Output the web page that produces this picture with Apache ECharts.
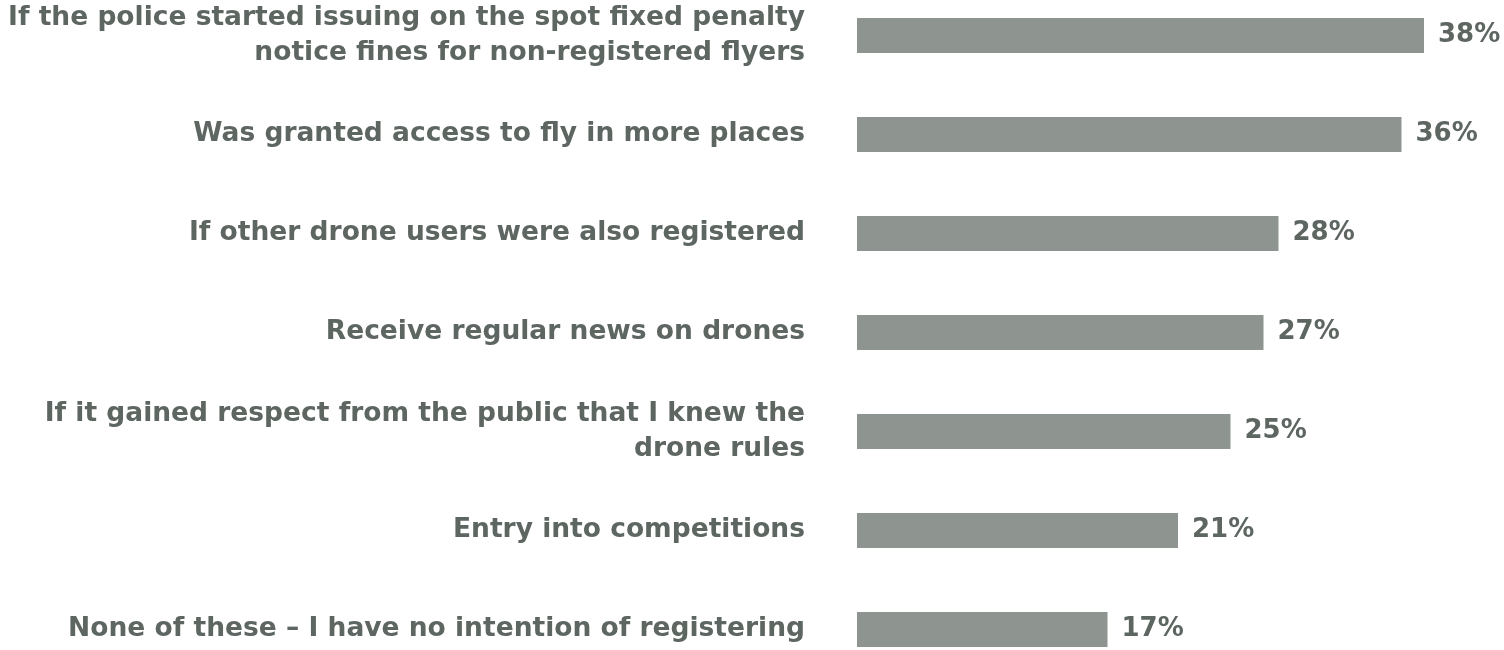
<!DOCTYPE html>
<html>
<head>
<meta charset="utf-8">
<script src="https://cdn.jsdelivr.net/npm/echarts@6/dist/echarts.min.js"></script>
<style>
html,body{margin:0;padding:0;background:#fff;overflow:hidden;width:1504px;height:650px;}
#chart{width:1504px;height:693px;margin-top:-14px;}
</style>
</head>
<body>
<div id="chart"></div>
<script>
var categories = [
  "If the police started issuing on the spot fixed penalty\nnotice fines for non-registered flyers",
  "Was granted access to fly in more places",
  "If other drone users were also registered",
  "Receive regular news on drones",
  "If it gained respect from the public that I knew the\ndrone rules",
  "Entry into competitions",
  "None of these \u2013 I have no intention of registering"
];
var values = [37.8, 36.3, 28.1, 27.1, 24.9, 21.4, 16.7];

var chart = echarts.init(document.getElementById('chart'));
chart.setOption({
  animation: false,
  grid: { left: 857, top: 0, height: 693, width: 600, containLabel: false, outerBoundsMode: 'none' },
  xAxis: {
    type: 'value', min: 0, max: 40, show: false
  },
  yAxis: {
    type: 'category', inverse: true, data: categories,
    axisLine: { show: false }, axisTick: { show: false },
    axisLabel: {
      margin: 52, align: 'right',
      fontFamily: 'DejaVu Sans', fontWeight: 'bold', fontSize: 26.5,
      lineHeight: 35, color: '#5E6661'
    }
  },
  series: [{
    type: 'bar', data: values, barWidth: 35,
    itemStyle: { color: '#8E9590' },
    label: {
      show: true, position: 'right', distance: 14,
      fontFamily: 'DejaVu Sans', fontWeight: 'bold', fontSize: 26,
      color: '#5E6661',
      formatter: function (p) { return Math.round(p.value) + '%'; }
    }
  }]
});
</script>
</body>
</html>
